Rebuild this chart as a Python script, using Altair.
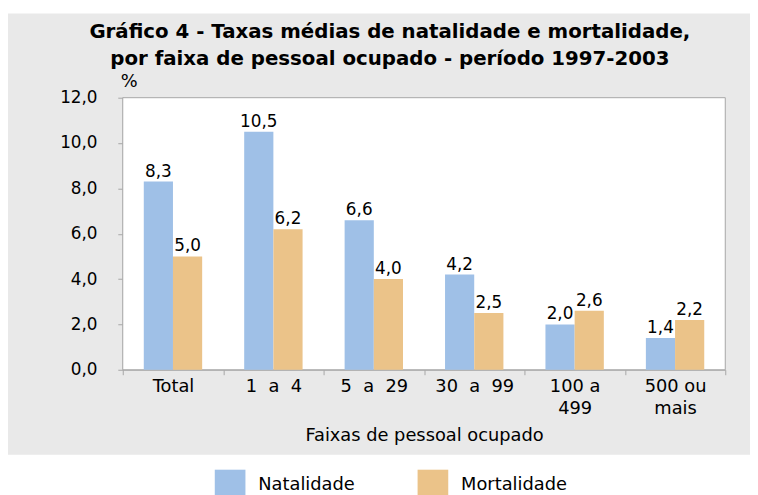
import altair as alt
import pandas as pd

categories = ["Total", "1\u00a0\u00a0a\u00a0\u00a04", "5\u00a0\u00a0a\u00a0\u00a029",
              "30\u00a0\u00a0a\u00a0\u00a099", "100 a|499", "500 ou|mais"]
natalidade = [8.3, 10.5, 6.6, 4.2, 2.0, 1.4]
mortalidade = [5.0, 6.2, 4.0, 2.5, 2.6, 2.2]
series = ["Natalidade", "Mortalidade"]
colors = ["#9fc0e7", "#ebc389"]
y_ticks = [0, 2, 4, 6, 8, 10, 12]
title_lines = ["Gráfico 4 - Taxas médias de natalidade e mortalidade,",
               "por faixa de pessoal ocupado - período 1997-2003"]

rows = []
for c, n, m in zip(categories, natalidade, mortalidade):
    rows.append({"faixa": c, "serie": series[0], "taxa": n})
    rows.append({"faixa": c, "serie": series[1], "taxa": m})
df = pd.DataFrame(rows)

# plot frame spans the whole value range
frame_df = pd.DataFrame({"fx": [0], "fx2": [1], "taxa": [0], "taxa2": [12]})

FONT = "DejaVu Sans"
GRAY_LINE = "#a6a6a6"
BG = "#e9e9e9"
W, H = 750, 446
PLOT_X = [116, 725]
PLOT_Y = [360, 85]

y_axis = alt.Axis(
    values=y_ticks, labelExpr="replace(format(datum.value, '.1f'), '.', ',')",
    grid=False, tickSize=5, labelPadding=21, labelFontSize=17, labelFont=FONT,
    labelColor="black", tickColor=GRAY_LINE, domainColor=GRAY_LINE,
    offset=-PLOT_X[0],
    title="%", titleAngle=0, titleX=6, titleY=69, titleAlign="center",
    titleBaseline="middle", titleFont=FONT, titleFontSize=18, titleFontWeight="normal",
    titleColor="black",
)
y_scale = alt.Scale(domain=[0, 12], nice=False, range=PLOT_Y)

x = alt.X(
    "faixa:N", sort=categories,
    scale=alt.Scale(paddingInner=0, paddingOuter=0, range=PLOT_X),
    axis=alt.Axis(
        title="Faixas de pessoal ocupado", labelAngle=0,
        labelExpr="split(datum.label, '|')", labelLineHeight=22,
        labelFontSize=18, labelFont=FONT, labelColor="black", labelPadding=3,
        tickBand="extent", tickSize=5, tickColor=GRAY_LINE, domainColor=GRAY_LINE,
        offset=-(H - PLOT_Y[0]),
        titleFont=FONT, titleFontSize=18, titleFontWeight="normal", titleColor="black",
        titleY=58, titleBaseline="top",
    ),
)
y = alt.Y("taxa:Q", scale=y_scale, axis=y_axis)
xoff = alt.XOffset("serie:N", sort=series, scale=alt.Scale(paddingInner=0, paddingOuter=0.72))
color = alt.Color(
    "serie:N", sort=series, scale=alt.Scale(domain=series, range=colors),
    legend=alt.Legend(
        title=None, orient="none", legendX=209, legendY=461, direction="horizontal",
        symbolType="square", symbolSize=961, symbolStrokeWidth=0, symbolOpacity=1,
        labelFontSize=18, labelFont=FONT, labelColor="black", labelOffset=13,
        columnPadding=63, padding=0,
    ),
)

frame = alt.Chart(frame_df).mark_rect(fill="white", stroke=GRAY_LINE, strokeWidth=1).encode(
    x=alt.X("fx:Q", scale=alt.Scale(domain=[0, 1], range=PLOT_X), axis=None),
    x2="fx2",
    y=y, y2="taxa2",
)

base = alt.Chart(df).encode(x=x, y=y, xOffset=xoff)
bars = base.mark_bar().encode(color=color)
labels = base.transform_calculate(
    label="replace(format(datum.taxa, '.1f'), '.', ',')"
).mark_text(dy=-5, baseline="alphabetic", fontSize=17, font=FONT, color="black").encode(
    text="label:N"
)

chart = alt.layer(frame, alt.layer(bars, labels)).resolve_scale(x="independent").properties(
    width=W, height=H,
    padding={"top": 3, "left": 0, "right": 0, "bottom": 0},
    background="white",
    view=alt.ViewBackground(fill=BG, strokeWidth=0),
    title=alt.TitleParams(title_lines, fontSize=20, font="DejaVu Sans", fontWeight="bold",
                          lineHeight=27, anchor="middle", dx=11, offset=-56, color="black"),
)

chart.save("out.html", embed_options={"renderer": "svg", "actions": False})
